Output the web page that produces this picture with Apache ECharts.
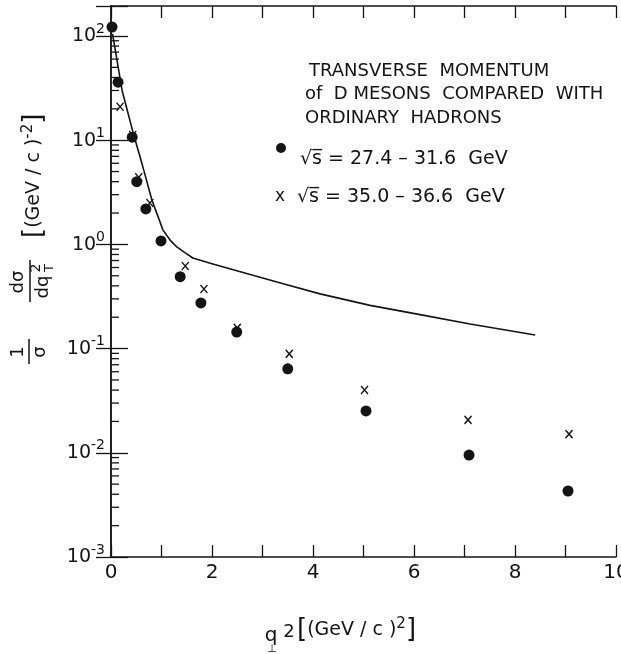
<!DOCTYPE html>
<html>
<head>
<meta charset="utf-8">
<script src="https://cdn.jsdelivr.net/npm/echarts@6/dist/echarts.min.js"></script>
<style>
  html, body { margin: 0; padding: 0; background: #fff; }
  #chart { width: 621px; height: 654px; }
</style>
</head>
<body>
<div id="chart"></div>
<script>
// sqrt(s) = 27.4 - 31.6 GeV (filled circles)
var dotX = [0.02, 0.14, 0.42, 0.51, 0.69, 0.99, 1.37, 1.78, 2.49, 3.5, 5.05, 7.09, 9.05];
var dotY = [122, 36, 10.7, 4.0, 2.19, 1.08, 0.49, 0.274, 0.144, 0.064, 0.0252, 0.0095, 0.0043];
// sqrt(s) = 35.0 - 36.6 GeV (crosses)
var crossX = [0.18, 0.43, 0.55, 0.77, 1.47, 1.84, 2.5, 3.53, 5.02, 7.07, 9.07];
var crossY = [20.9, 11.2, 4.4, 2.5, 0.62, 0.373, 0.158, 0.089, 0.040, 0.0207, 0.0151];
// ordinary hadrons curve
var curveX = [0.03, 0.22, 0.44, 0.62, 0.81, 1.03, 1.17, 1.31, 1.47, 1.62, 2.0, 2.42, 3.41, 4.14, 5.13, 6.12, 7.11, 8.4];
var curveY = [105, 30, 11.7, 5.8, 2.67, 1.37, 1.10, 0.94, 0.83, 0.74, 0.653, 0.57, 0.42, 0.335, 0.26, 0.212, 0.172, 0.135];
// minor ticks on the left log axis
var minorTicks = [
  0.002, 0.003, 0.004, 0.005, 0.006, 0.007, 0.008, 0.009,
  0.02, 0.03, 0.04, 0.05, 0.06, 0.07, 0.08, 0.09,
  0.2, 0.3, 0.4, 0.5, 0.6, 0.7, 0.8, 0.9,
  2, 3, 4, 5, 6, 7, 8, 9,
  20, 30, 40, 50, 60, 70, 80, 90
];
var xLabelValues = [0, 2, 4, 6, 8, 10];

var ink = '#141414';
var fam = '"DejaVu Sans", "Liberation Sans", sans-serif';

function pairs(xs, ys) {
  return xs.map(function (x, i) { return [x, ys[i]]; });
}

function logLabel(v) {
  var l = Math.log10(v);
  var e = Math.round(l);
  if (Math.abs(l - e) > 1e-6) return '';
  return '{b|10}{s|' + e + '}';
}

function unitRich() {
  return {
    br: { fontSize: 26, fontFamily: fam, fill: ink, verticalAlign: 'middle' },
    t: { fontSize: 19, fontFamily: fam, fill: ink, verticalAlign: 'middle' },
    s: { fontSize: 15, fontFamily: fam, fill: ink, verticalAlign: 'top' }
  };
}

var chart = echarts.init(document.getElementById('chart'));

var xBase = {
  type: 'value', min: 0, max: 10, interval: 1,
  splitLine: { show: false },
  axisLine: { lineStyle: { color: ink, width: 1.5 } },
  axisTick: { inside: true, length: 12, lineStyle: { color: ink, width: 1.3 } }
};
var yBase = {
  type: 'log', logBase: 10, min: 0.001, max: 194,
  splitLine: { show: false },
  axisLine: { show: true, lineStyle: { color: ink, width: 1.5 } }
};

var option = {
  animation: false,
  backgroundColor: '#fff',
  grid: { left: 111, right: 5, top: 6, bottom: 97, containLabel: false, outerBoundsMode: 'none' },
  xAxis: [
    Object.assign({}, xBase, {
      position: 'bottom',
      axisLabel: {
        margin: 6, color: ink, fontFamily: fam, fontSize: 20, hideOverlap: false,
        formatter: function (v) { return xLabelValues.indexOf(v) >= 0 ? String(v) : ''; }
      }
    }),
    Object.assign({}, xBase, { position: 'top', axisLabel: { show: false } })
  ],
  yAxis: [
    Object.assign({}, yBase, {
      position: 'left',
      axisTick: { inside: true, length: 17, lineStyle: { color: ink, width: 1.3 } },
      axisLabel: {
        margin: 6, color: ink, fontFamily: fam, formatter: logLabel,
        rich: {
          b: { fontSize: 19, fontFamily: fam, color: ink, lineHeight: 20, verticalAlign: 'bottom' },
          s: { fontSize: 14, fontFamily: fam, color: ink, lineHeight: 14, padding: [0, 0, 10, 0], verticalAlign: 'bottom' }
        }
      }
    }),
    Object.assign({}, yBase, {
      position: 'right',
      axisTick: { inside: true, length: 15, lineStyle: { color: ink, width: 1.3 } },
      axisLabel: { show: false }
    })
  ],
  series: [
    {
      name: 'hadrons', type: 'line', data: pairs(curveX, curveY),
      showSymbol: false, smooth: false,
      lineStyle: { color: ink, width: 1.6 }, silent: true, z: 2
    },
    {
      name: '27.4-31.6', type: 'scatter', data: pairs(dotX, dotY),
      symbol: 'circle', symbolSize: 11, itemStyle: { color: ink, opacity: 1 }, silent: true, z: 3
    },
    {
      name: '35.0-36.6', type: 'scatter', data: pairs(crossX, crossY),
      symbol: 'path://M0,0L10,11M10,0L0,11', symbolSize: [7, 8],
      itemStyle: { color: 'none', borderColor: ink, borderWidth: 1.4, opacity: 1 }, silent: true, z: 4
    },
    {
      name: 'minor ticks', type: 'scatter', clip: false,
      data: minorTicks.map(function (v) { return [0, v]; }),
      symbol: 'rect', symbolSize: [8, 1.3], symbolOffset: [4, 0],
      itemStyle: { color: ink, opacity: 1 }, silent: true, z: 1
    }
  ],
  graphic: [
    { type: 'text', x: 309, y: 71, style: { text: 'TRANSVERSE  MOMENTUM', font: '18px ' + fam, fill: ink, verticalAlign: 'middle' } },
    { type: 'text', x: 305, y: 94, style: { text: 'of  D MESONS  COMPARED  WITH', font: '18px ' + fam, fill: ink, verticalAlign: 'middle' } },
    { type: 'text', x: 305, y: 118, style: { text: 'ORDINARY  HADRONS', font: '18px ' + fam, fill: ink, verticalAlign: 'middle' } },
    { type: 'circle', shape: { cx: 281, cy: 148, r: 5 }, style: { fill: ink } },
    { type: 'text', x: 300, y: 159, style: { text: '\u221As\u0305 = 27.4 \u2013 31.6  GeV', font: '19px ' + fam, fill: ink, verticalAlign: 'middle' } },
    { type: 'text', x: 280, y: 197, style: { text: 'x', font: '17px ' + fam, fill: ink, align: 'center', verticalAlign: 'middle' } },
    { type: 'text', x: 297, y: 197, style: { text: '\u221As\u0305 = 35.0 \u2013 36.6  GeV', font: '19px ' + fam, fill: ink, verticalAlign: 'middle' } },

    // x axis title
    { type: 'text', x: 271, y: 636, style: { text: 'q', font: '20px ' + fam, fill: ink, align: 'center', verticalAlign: 'middle' } },
    { type: 'text', x: 272, y: 649, style: { text: '\u22A5', font: '11px ' + fam, fill: ink, align: 'center', verticalAlign: 'middle' } },
    { type: 'text', x: 289, y: 632, style: { text: '2', font: '18px ' + fam, fill: ink, align: 'center', verticalAlign: 'middle' } },
    {
      type: 'text', x: 297, y: 630,
      style: { text: '{br|[}{t|(GeV / c )}{s|2}{br|]}', fill: ink, verticalAlign: 'middle', rich: unitRich() }
    },

    // y axis title, rotated to read upward
    {
      type: 'group', x: 0, y: 372, rotation: Math.PI / 2,
      children: [
        { type: 'text', x: 20, y: 18, style: { text: '1', font: '18px ' + fam, fill: ink, align: 'center', verticalAlign: 'middle' } },
        { type: 'line', shape: { x1: 8, y1: 29, x2: 33, y2: 29 }, style: { stroke: ink, lineWidth: 1.5 } },
        { type: 'text', x: 20, y: 40, style: { text: '\u03C3', font: '18px ' + fam, fill: ink, align: 'center', verticalAlign: 'middle' } },
        { type: 'text', x: 90, y: 18, style: { text: 'd\u03C3', font: '18px ' + fam, fill: ink, align: 'center', verticalAlign: 'middle' } },
        { type: 'line', shape: { x1: 70, y1: 30, x2: 112, y2: 30 }, style: { stroke: ink, lineWidth: 1.5 } },
        { type: 'text', x: 85, y: 43, style: { text: 'dq', font: '18px ' + fam, fill: ink, align: 'center', verticalAlign: 'middle' } },
        { type: 'text', x: 104, y: 36, style: { text: '2', font: '14px ' + fam, fill: ink, align: 'center', verticalAlign: 'middle' } },
        { type: 'text', x: 104, y: 50, style: { text: 'T', font: '13px ' + fam, fill: ink, align: 'center', verticalAlign: 'middle' } },
        {
          type: 'text', x: 134, y: 34,
          style: { text: '{br|[}{t|(GeV / c )}{s|-2}{br|]}', fill: ink, verticalAlign: 'middle', rich: unitRich() }
        }
      ]
    }
  ]
};

chart.setOption(option);
</script>
</body>
</html>
